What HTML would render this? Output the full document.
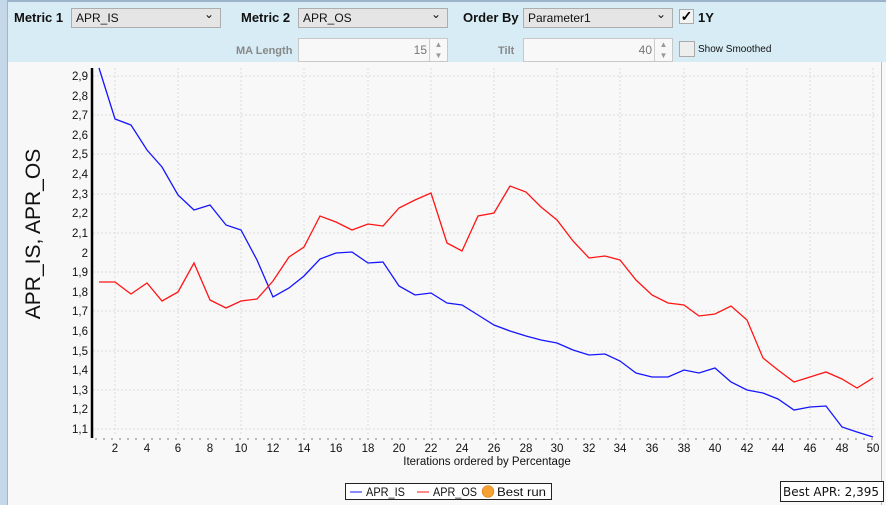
<!DOCTYPE html>
<html><head><meta charset="utf-8"><style>
body{margin:0;width:886px;height:505px;overflow:hidden;font-family:"Liberation Sans",sans-serif;background:#f8f8f8;position:relative}
.tb{position:absolute;left:0;top:0;width:886px;height:62px;background:#d7ecf5;border-top:2px solid #9bb4cc;box-sizing:border-box}
.lstrip{position:absolute;left:0;top:0;width:7px;height:505px;background:#c5d8ea;border-right:1px solid #9fb6cc}
.lb{position:absolute;font-size:13px;font-weight:bold;color:#111}
.lg{position:absolute;font-size:11px;font-weight:bold;color:#888}
.sel{position:absolute;height:20px;background:#e5e5e5;border:1px solid #adadad;box-sizing:border-box;font-size:12px;padding:2px 0 0 4px;color:#111}
.sel:after{content:"⌄";position:absolute;right:6px;top:-2px;font-size:12px}
.num{position:absolute;height:24px;background:#f8f8f8;border:1px solid #c8c8c8;box-sizing:border-box;font-size:12px;color:#777;text-align:right;padding:4px 20px 0 0}
.spin{position:absolute;right:0;top:0;width:17px;height:22px;border-left:1px solid #ccc;font-size:8px;color:#999;line-height:11px;text-align:center}
.cb{position:absolute;width:15px;height:15px;border:1px solid #aaa;background:#eee;box-sizing:border-box}
</style></head><body>
<div class="tb"></div>
<div class="lstrip"></div>
<div class="lb" style="left:14px;top:10px">Metric 1</div>
<div class="sel" style="left:71px;top:8px;width:150px">APR_IS</div>
<div class="lb" style="left:241px;top:10px">Metric 2</div>
<div class="sel" style="left:298px;top:8px;width:150px">APR_OS</div>
<div class="lb" style="left:463px;top:10px">Order By</div>
<div class="sel" style="left:523px;top:8px;width:150px">Parameter1</div>
<div class="cb" style="left:679px;top:9px;background:#f4f4f4;font-size:14px;line-height:13px;text-align:center;font-weight:bold">✓</div>
<div class="lb" style="left:698px;top:10px">1Y</div>
<div class="lg" style="left:236px;top:45px">MA Length</div>
<div class="num" style="left:298px;top:38px;width:150px">15<div class="spin">▲<br>▼</div></div>
<div class="lg" style="left:498px;top:45px">Tilt</div>
<div class="num" style="left:523px;top:38px;width:150px">40<div class="spin">▲<br>▼</div></div>
<div class="cb" style="left:679px;top:41px;width:16px;height:16px"></div>
<div style="position:absolute;left:698px;top:44px;font-size:10px;color:#111">Show Smoothed</div>
<div style="position:absolute;left:881px;top:62px;width:1px;height:443px;background:#bbb"></div>
<svg width="886" height="505" style="position:absolute;left:0;top:0" font-family="Liberation Sans, sans-serif">
<g stroke="#ddd" stroke-width="1" stroke-dasharray="2,2">
<line x1="93" y1="76" x2="878" y2="76"/><line x1="93" y1="115" x2="878" y2="115"/><line x1="93" y1="154" x2="878" y2="154"/><line x1="93" y1="194" x2="878" y2="194"/><line x1="93" y1="233" x2="878" y2="233"/><line x1="93" y1="272" x2="878" y2="272"/><line x1="93" y1="311" x2="878" y2="311"/><line x1="93" y1="351" x2="878" y2="351"/><line x1="93" y1="390" x2="878" y2="390"/><line x1="93" y1="429" x2="878" y2="429"/>
<line x1="115" y1="68" x2="115" y2="436"/><line x1="178" y1="68" x2="178" y2="436"/><line x1="241" y1="68" x2="241" y2="436"/><line x1="304" y1="68" x2="304" y2="436"/><line x1="368" y1="68" x2="368" y2="436"/><line x1="431" y1="68" x2="431" y2="436"/><line x1="494" y1="68" x2="494" y2="436"/><line x1="557" y1="68" x2="557" y2="436"/><line x1="620" y1="68" x2="620" y2="436"/><line x1="684" y1="68" x2="684" y2="436"/><line x1="747" y1="68" x2="747" y2="436"/><line x1="810" y1="68" x2="810" y2="436"/><line x1="873" y1="68" x2="873" y2="436"/>
</g>
<line x1="92" y1="68" x2="92" y2="438" stroke="#000" stroke-width="2.5"/>
<line x1="95" y1="439" x2="878" y2="439" stroke="#bbb" stroke-width="2" stroke-dasharray="2,6"/>
<g font-size="11.5" fill="#111" text-anchor="end">
<text x="88" y="80">2,9</text><text x="88" y="100">2,8</text><text x="88" y="119">2,7</text><text x="88" y="139">2,6</text><text x="88" y="158">2,5</text><text x="88" y="178">2,4</text><text x="88" y="198">2,3</text><text x="88" y="217">2,2</text><text x="88" y="237">2,1</text><text x="88" y="257">2</text><text x="88" y="276">1,9</text><text x="88" y="296">1,8</text><text x="88" y="315">1,7</text><text x="88" y="335">1,6</text><text x="88" y="355">1,5</text><text x="88" y="374">1,4</text><text x="88" y="394">1,3</text><text x="88" y="413">1,2</text><text x="88" y="433">1,1</text>
</g>
<g font-size="11.5" fill="#111" text-anchor="middle">
<text x="115" y="452">2</text><text x="147" y="452">4</text><text x="178" y="452">6</text><text x="210" y="452">8</text><text x="241" y="452">10</text><text x="273" y="452">12</text><text x="304" y="452">14</text><text x="336" y="452">16</text><text x="368" y="452">18</text><text x="399" y="452">20</text><text x="431" y="452">22</text><text x="462" y="452">24</text><text x="494" y="452">26</text><text x="526" y="452">28</text><text x="557" y="452">30</text><text x="589" y="452">32</text><text x="620" y="452">34</text><text x="652" y="452">36</text><text x="684" y="452">38</text><text x="715" y="452">40</text><text x="747" y="452">42</text><text x="778" y="452">44</text><text x="810" y="452">46</text><text x="842" y="452">48</text><text x="873" y="452">50</text>
<text x="487" y="465">Iterations ordered by Percentage</text>
</g>
<text transform="translate(40,234) rotate(-90)" font-size="21" text-anchor="middle" fill="#111">APR_IS, APR_OS</text>
<polyline fill="none" stroke="#1515ff" stroke-width="1.3" points="99,68 115,119 131,125 147,150 162,167 178,195 194,210 210,205 226,225 241,230 257,260 273,297 289,288 304,276 320,259 336,253 352,252 368,263 383,262 399,286 415,295 431,293 447,303 462,305 478,315 494,325 510,331 526,336 541,340 557,343 573,350 589,355 605,354 620,361 636,373 652,377 668,377 684,370 699,373 715,368 731,382 747,390 763,393 778,399 794,410 810,407 826,406 842,427 857,432 873,437"/>
<polyline fill="none" stroke="#ff1515" stroke-width="1.3" points="99,282 115,282 131,294 147,283 162,301 178,292 194,263 210,300 226,308 241,301 257,299 273,281 289,257 304,247 320,216 336,222 352,230 368,224 383,226 399,208 415,200 431,193 447,243 462,251 478,216 494,213 510,186 526,192 541,207 557,220 573,241 589,258 605,256 620,260 636,280 652,295 668,303 684,305 699,316 715,314 731,306 747,320 763,358 778,370 794,382 810,377 826,372 842,379 857,388 873,378"/>
<rect x="345.5" y="483.5" width="206" height="16" fill="#fff" stroke="#222"/>
<line x1="350" y1="492" x2="362" y2="492" stroke="#1515ff"/>
<text x="366" y="496" font-size="12" fill="#111" textLength="39" lengthAdjust="spacingAndGlyphs">APR_IS</text>
<line x1="417" y1="492" x2="429" y2="492" stroke="#ff1515"/>
<text x="433" y="496" font-size="12" fill="#111" textLength="44" lengthAdjust="spacingAndGlyphs">APR_OS</text>
<circle cx="488" cy="491.5" r="6" fill="#f5a030" stroke="#c07010" stroke-width="0.5"/>
<text x="497" y="496" font-size="12" fill="#111" textLength="49" lengthAdjust="spacingAndGlyphs">Best run</text>
<rect x="780.5" y="481.5" width="103" height="20" fill="#fff" stroke="#222"/>
<text x="783" y="496" font-size="12" fill="#111" font-family="DejaVu Sans, sans-serif" textLength="96">Best APR: 2,395</text>
</svg>
</body></html>
